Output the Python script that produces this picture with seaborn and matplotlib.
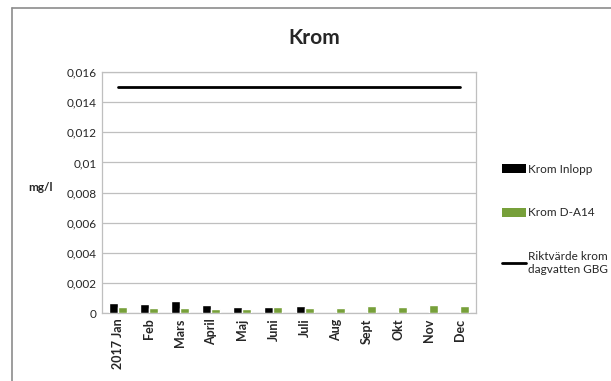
import matplotlib
matplotlib.use("Agg")
import matplotlib.pyplot as plt
from matplotlib.lines import Line2D
from matplotlib.patches import Patch
import seaborn as sns
import pandas as pd
import numpy as np

# Monthly chromium concentrations (mg/l)
months = ["2017 Jan", "Feb", "Mars", "April", "Maj", "Juni", "Juli",
          "Aug", "Sept", "Okt", "Nov", "Dec"]
krom_inlopp = [0.00069, 0.00058, 0.00080, 0.00053, 0.00040, 0.00044, 0.00047,
               np.nan, np.nan, np.nan, np.nan, np.nan]
krom_da14 = [0.00038, 0.00033, 0.00036, 0.00031, 0.00027, 0.00040, 0.00037,
             0.00036, 0.00047, 0.00042, 0.00053, 0.00047]
riktvarde = [0.015] * len(months)
yticks = [0, 0.002, 0.004, 0.006, 0.008, 0.01, 0.012, 0.014, 0.016]

series_names = ["Krom Inlopp", "Krom D-A14"]
line_name = "Riktvärde krom\ndagvatten GBG"
colors = {"Krom Inlopp": "#000000", "Krom D-A14": "#77A03A"}

df = pd.DataFrame({
    "month": months * 2,
    "value": krom_inlopp + krom_da14,
    "series": [series_names[0]] * len(months) + [series_names[1]] * len(months),
})

sns.set_theme(style="white")
plt.rcParams["font.family"] = ["Lato", "DejaVu Sans"]

fig = plt.figure(figsize=(6.11, 3.81), dpi=100)
ax = fig.add_axes([0.167, 0.178, 0.612, 0.633])

sns.barplot(data=df, x="month", y="value", hue="series", order=months,
            hue_order=series_names, palette=colors, width=0.58,
            saturation=1, errorbar=None, legend=False, ax=ax, zorder=3)

sns.lineplot(x=np.arange(len(months)), y=riktvarde, color="black",
             linewidth=2.0, ax=ax, zorder=4)

ax.set_xlim(-0.5, len(months) - 0.5)
ax.set_ylim(0, 0.016)
ax.set_yticks(yticks)
ax.set_yticklabels([("%g" % t).replace(".", ",") for t in yticks], fontsize=8.5)
ax.set_xticks(range(len(months)))
ax.set_xticklabels(months, rotation=90, fontsize=9, fontweight="bold")
ax.tick_params(axis="both", length=0, pad=4)
ax.set_xlabel("")
ax.set_ylabel("mg/l", rotation=0, fontsize=8.5, fontweight="bold")
ax.yaxis.set_label_coords(-0.165, 0.5)

ax.grid(axis="y", color="#BFBFBF", linewidth=0.9, zorder=0)
for s in ax.spines.values():
    s.set_color("#BFBFBF")
    s.set_linewidth(0.9)

ax.set_title("Krom", fontsize=15, fontweight="bold", pad=20, x=0.567)

handles = [Patch(facecolor=colors[n], edgecolor="none") for n in series_names]
handles.append(Line2D([0], [0], color="black", linewidth=2.0))
fig.legend(handles, series_names + [line_name], loc="upper left",
           bbox_to_anchor=(0.812, 0.585), frameon=False, fontsize=8.5,
           handlelength=2.0, handleheight=0.8, handletextpad=0.2,
           labelspacing=2.75, borderpad=0)

# outer chart-area frame (left and top edges)
fig.add_artist(Line2D([0.019, 0.019], [0.0, 0.978], color="#8C8C8C",
                      linewidth=1.2, transform=fig.transFigure))
fig.add_artist(Line2D([0.019, 1.0], [0.978, 0.978], color="#8C8C8C",
                      linewidth=1.2, transform=fig.transFigure))

fig.savefig("out.png", dpi=100, facecolor="white")
